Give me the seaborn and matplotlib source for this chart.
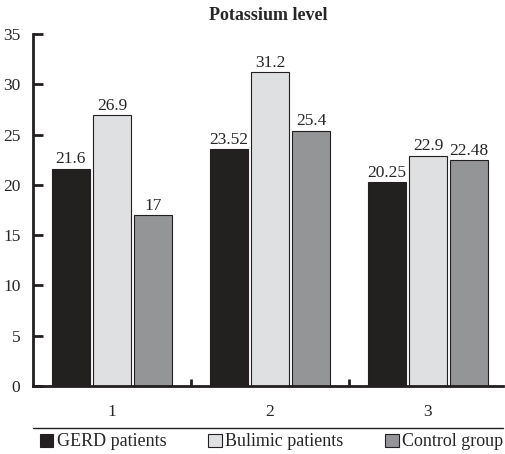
import seaborn as sns
import pandas as pd
import matplotlib.pyplot as plt
from matplotlib.lines import Line2D

groups = ['1', '2', '3']
series = ['GERD patients', 'Bulimic patients', 'Control group']
gerd = [21.6, 23.52, 20.25]
bulimic = [26.9, 31.2, 22.9]
control = [17, 25.4, 22.48]
colors = ['#231f20', '#dfe0e2', '#939598']

if __name__ == '__main__':
    sns.set_style('white')
    plt.rcParams['font.family'] = ['Liberation Serif', 'DejaVu Serif']

    df = pd.DataFrame({
        'group': groups * 3,
        'series': [s for s in series for _ in groups],
        'value': gerd + bulimic + control,
    })

    fig = plt.figure(figsize=(5.05, 4.54), dpi=100)
    ax = fig.add_axes([33 / 505, 1 - 386 / 454, 470 / 505, 352 / 454])
    sns.barplot(data=df, x='group', y='value', hue='series', palette=colors,
                width=0.78, gap=0.07, edgecolor='#231f20', linewidth=0.8,
                legend=False, ax=ax)

    for c in ax.containers:
        ax.bar_label(c, fmt='%g', padding=1, fontsize=12.5)

    ax.set_ylim(0, 35)
    ax.set_xlim(-0.5, 2.475)
    ax.set_yticks(range(0, 36, 5))
    ax.set_xticks([0.5, 1.5], minor=True)
    ax.set_xlabel('')
    ax.set_ylabel('')
    ax.set_title('Potassium level', fontsize=13, fontweight='bold', pad=10)

    for s in ['top', 'right']:
        ax.spines[s].set_visible(False)
    for s in ['left', 'bottom']:
        ax.spines[s].set_linewidth(2)
        ax.spines[s].set_color('#231f20')
    ax.tick_params(axis='y', direction='in', length=7, width=2, labelsize=12.5,
                   pad=9, color='#231f20', left=True)
    ax.tick_params(axis='x', which='major', length=0, labelsize=12.5, pad=13)
    ax.tick_params(axis='x', which='minor', direction='in', length=5, width=2,
                   color='#231f20', bottom=True)

    fig.add_artist(Line2D([33 / 505, 503 / 505], [1 - 428 / 454] * 2,
                          color='#231f20', lw=1))

    handles = [plt.Rectangle((0, 0), 1, 1, facecolor=c, edgecolor='#231f20', lw=0.8)
               for c in colors]
    fig.legend(handles, series, loc='center', bbox_to_anchor=(0.538, 1 - 442 / 454),
               ncol=3, frameon=False, fontsize=13, handlelength=0.75,
               handleheight=0.75, handletextpad=0.2, columnspacing=2.3,
               borderpad=0, borderaxespad=0)

    plt.savefig('out.png', dpi=100)
